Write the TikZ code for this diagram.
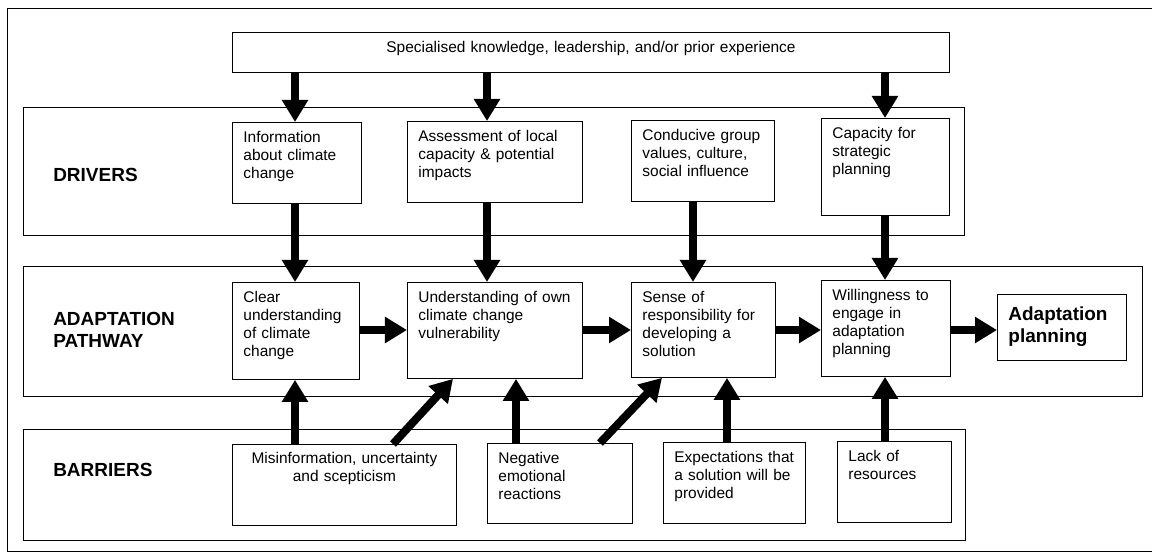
\documentclass[tikz,border=0pt]{standalone}
\usepackage{fontspec}
\setmainfont{Liberation Sans}
\usetikzlibrary{arrows.meta, positioning}

\begin{document}
\begin{tikzpicture}[
    x=0.025cm, y=-0.025cm,
    font=\fontsize{11}{12.8}\selectfont,
    frame/.style={
        draw,
        line width=0.6pt
    },
    cell/.style={
        draw,
        anchor=north west,
        align=left,
        line width=0.6pt,
        inner xsep=0.275cm,
        inner ysep=0pt,
        text height=0.5cm
    },
    tag/.style={
        anchor=west,
        align=left,
        inner sep=0pt,
        font=\fontsize{13.5}{16}\selectfont\bfseries
    },
    arrow/.style={
        -{Triangle[width=0.625cm, length=0.55cm]},
        line width=0.2cm
    }
]
\useasboundingbox (0,0) rectangle (1152,553);

% frames
\draw[frame] (7,8) rectangle (1160,551);
\draw[frame] (23,107) rectangle (964,235);
\draw[frame] (23,266) rectangle (1142,396);
\draw[frame] (23,429) rectangle (965,540);

\node[tag] (drv) at (53,175) {DRIVERS};
\node[tag] (path) at (53,330) {ADAPTATION\\PATHWAY};
\node[tag] (bar) at (53,470) {BARRIERS};

% top
\node[cell, align=center, text width=17.375cm, text depth=0.5cm] (prior) at (232,32) {Specialised knowledge, leadership, and/or prior experience};

% drivers
\node[cell, text width=2.675cm, text depth=1.525cm] (info) at (232,122) {Information\\about climate\\change};
\node[cell, text width=3.825cm, text depth=1.525cm] (assess) at (407,121) {Assessment of local\\capacity \& potential\\impacts};
\node[cell, text width=3.025cm, text depth=1.525cm] (values) at (631,120) {Conducive group\\values, culture,\\social influence};
\node[cell, text width=2.65cm, text depth=1.925cm] (capacity) at (821,118) {Capacity for\\strategic\\planning};

% adaptation pathway
\node[cell, text width=2.625cm, text depth=1.925cm] (clear) at (232,282) {Clear\\understanding\\of climate\\change};
\node[cell, text width=3.825cm, text depth=1.9cm] (vuln) at (407,282) {Understanding of own\\climate change\\vulnerability};
\node[cell, text width=3.05cm, text depth=1.875cm] (resp) at (631,282) {Sense of\\responsibility for\\developing a\\solution};
\node[cell, text width=2.675cm, text depth=1.9cm] (willing) at (821,280) {Willingness to\\engage in\\adaptation\\planning};
\node[cell, text width=2.675cm, text height=0.65cm, text depth=1.0cm, font=\fontsize{13.5}{15.6}\selectfont\bfseries] (plan) at (997,294) {Adaptation\\planning};

% barriers
\node[cell, align=center, text width=5.05cm, text height=0.475cm, text depth=1.55cm] (misinfo) at (232,444) {Misinformation, uncertainty\\and scepticism};
\node[cell, text width=3.075cm, text depth=1.5cm] (negative) at (487,443) {Negative\\emotional\\reactions};
\node[cell, text width=3.0cm, text depth=1.525cm] (expect) at (663,442) {Expectations that\\a solution will be\\provided};
\node[cell, text width=2.3cm, text depth=1.525cm] (lack) at (837,441) {Lack of\\resources};

% arrow columns
\foreach \n/\x in {c1/295, c2/487, c3/693, c4/885, b2/516, b3/727, d1/393, d2/453, d3/600, d4/662}
    \coordinate (\n) at (\x,0);
\coordinate (row) at (0,330);

\draw[arrow] (prior.south -| c1) -- (info.north -| c1);
\draw[arrow] (prior.south -| c2) -- (assess.north -| c2);
\draw[arrow] (prior.south -| c4) -- (capacity.north -| c4);

\draw[arrow] (info.south -| c1) -- (clear.north -| c1);
\draw[arrow] (assess.south -| c2) -- (vuln.north -| c2);
\draw[arrow] (values.south -| c3) -- (resp.north -| c3);
\draw[arrow] (capacity.south -| c4) -- (willing.north -| c4);

\draw[arrow] (clear.east |- row) -- (vuln.west |- row);
\draw[arrow] (vuln.east |- row) -- (resp.west |- row);
\draw[arrow] (resp.east |- row) -- (willing.west |- row);
\draw[arrow] (willing.east |- row) -- (plan.west |- row);

\draw[arrow] (misinfo.north -| c1) -- (clear.south -| c1);
\draw[arrow] (misinfo.north -| d1) -- (vuln.south -| d2);
\draw[arrow] (negative.north -| b2) -- (vuln.south -| b2);
\draw[arrow] (negative.north -| d3) -- (resp.south -| d4);
\draw[arrow] (expect.north -| b3) -- (resp.south -| b3);
\draw[arrow] (lack.north -| c4) -- (willing.south -| c4);

\end{tikzpicture}
\end{document}
